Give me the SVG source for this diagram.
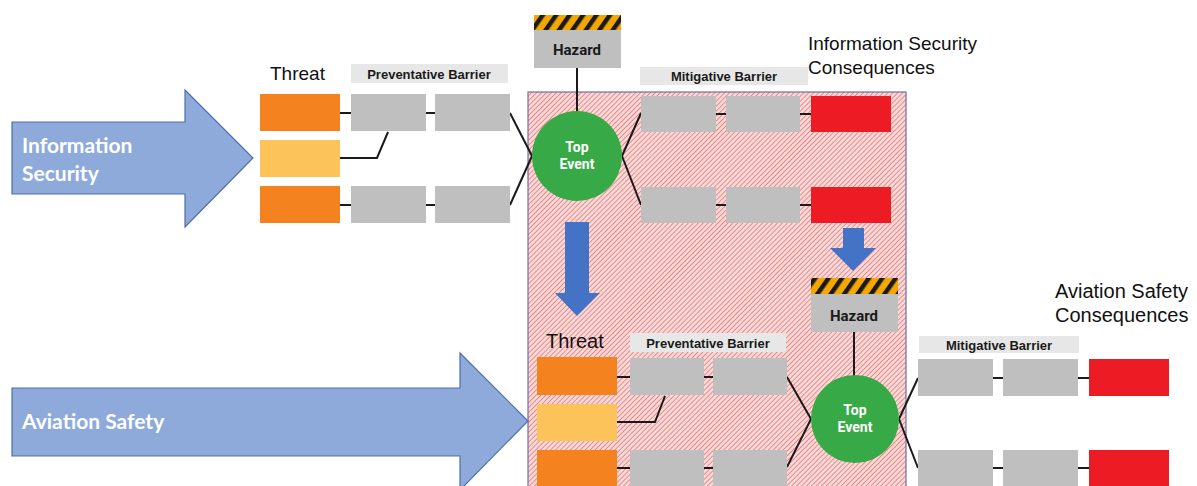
<svg xmlns="http://www.w3.org/2000/svg" width="1197" height="486" viewBox="0 0 1197 486">
  <defs>
    <!-- red diagonal hatching for the shared zone -->
    <pattern id="hatch" width="3.5" height="3.5" patternUnits="userSpaceOnUse" patternTransform="rotate(45)">
      <rect width="3.5" height="3.5" fill="#f9d8d8"/>
      <line x1="0" y1="0" x2="0" y2="3.5" stroke="#de5a5a" stroke-width="1.2"/>
    </pattern>
    <!-- yellow / black warning stripes -->
    <pattern id="warn" width="11" height="11" patternUnits="userSpaceOnUse" patternTransform="rotate(35)">
      <rect width="11" height="11" fill="#f4a700"/>
      <rect width="4.5" height="11" fill="#1a1a1a"/>
    </pattern>
  </defs>
  <style>
    .threat { fill: #f4821f; }
    .threat2 { fill: #fbc35a; }
    .barrier { fill: #bfbfbf; }
    .cons { fill: #ed1c24; }
    .tag { fill: #e7e7e7; }
    .tagtxt { font-family: "Liberation Sans", Arial, sans-serif; font-weight: bold; font-size: 13px; fill: #1a1a1a; text-anchor: middle; }
    .head { font-family: "Liberation Sans", Arial, sans-serif; font-size: 19px; fill: #111; }
    .big { fill: #8eaadb; stroke: #4f6fa8; stroke-width: 1.2; }
    .bigtxt { font-family: Lato, "Open Sans", sans-serif; font-weight: bold; font-size: 21px; fill: #ffffff; }
    .top { fill: #37a946; }
    .toptxt { font-family: Roboto, "Liberation Sans", sans-serif; font-weight: bold; font-size: 14px; fill: #ffffff; text-anchor: middle; }
    .hz { fill: #bfbfbf; }
    .hztxt { font-family: Roboto, "Liberation Sans", sans-serif; font-weight: bold; font-size: 15px; fill: #1a1a1a; text-anchor: middle; }
    .down { fill: #4472c4; }
    .link { stroke: #1a1a1a; stroke-width: 2; fill: none; }
  </style>

  <rect width="1197" height="486" fill="#ffffff"/>

  <!-- shared zone -->
  <g id="overlap">
    <rect x="528" y="92" width="378" height="400" fill="url(#hatch)" stroke="#6a6fa6" stroke-width="1.2"/>
  </g>

  <!-- domain arrows -->
  <g id="info-security">
    <polygon class="big" points="12,122 185,122 185,90 253,158 185,227 185,194 12,194"/>
    <text class="bigtxt" x="22" y="153">Information</text>
    <text class="bigtxt" x="22" y="181">Security</text>
  </g>
  <g id="aviation-safety">
    <polygon class="big" points="12,388 460,388 460,353 528,421 460,490 460,456 12,456"/>
    <text class="bigtxt" x="22" y="429">Aviation Safety</text>
  </g>

  <!-- connectors -->
  <g id="connectors">
    <line class="link" x1="577" y1="68" x2="577" y2="112"/>
    <line class="link" x1="340" y1="113" x2="351" y2="113"/>
    <line class="link" x1="426" y1="113" x2="435" y2="113"/>
    <polyline class="link" points="340,158 377,158 388,132"/>
    <line class="link" x1="340" y1="205" x2="351" y2="205"/>
    <line class="link" x1="426" y1="205" x2="435" y2="205"/>
    <line class="link" x1="510" y1="113" x2="532" y2="156"/>
    <line class="link" x1="510" y1="205" x2="532" y2="156"/>
    <line class="link" x1="622" y1="156" x2="641" y2="113"/>
    <line class="link" x1="622" y1="156" x2="641" y2="205"/>
    <line class="link" x1="716" y1="114" x2="726" y2="114"/>
    <line class="link" x1="800" y1="114" x2="811" y2="114"/>
    <line class="link" x1="716" y1="205" x2="726" y2="205"/>
    <line class="link" x1="800" y1="205" x2="811" y2="205"/>

    <line class="link" x1="854" y1="332" x2="854" y2="376"/>
    <line class="link" x1="617" y1="377" x2="630" y2="377"/>
    <line class="link" x1="704" y1="377" x2="713" y2="377"/>
    <polyline class="link" points="617,422 655,422 665,396"/>
    <line class="link" x1="617" y1="468" x2="630" y2="468"/>
    <line class="link" x1="704" y1="468" x2="713" y2="468"/>
    <line class="link" x1="787" y1="377" x2="811" y2="419"/>
    <line class="link" x1="787" y1="467" x2="811" y2="419"/>
    <line class="link" x1="899" y1="419" x2="918" y2="378"/>
    <line class="link" x1="899" y1="419" x2="918" y2="468"/>
    <line class="link" x1="993" y1="378" x2="1003" y2="378"/>
    <line class="link" x1="1078" y1="378" x2="1089" y2="378"/>
    <line class="link" x1="993" y1="468" x2="1003" y2="468"/>
    <line class="link" x1="1078" y1="468" x2="1089" y2="468"/>
  </g>

  <!-- upper bow-tie -->
  <text class="head" x="270" y="80">Threat</text>
  <g id="prev-tag-1">
    <rect class="tag" x="351" y="64" width="157" height="19"/>
    <text class="tagtxt" x="429" y="78.5">Preventative Barrier</text>
  </g>
  <g id="threat-1a"><rect class="threat" x="260" y="94" width="80" height="37"/></g>
  <g id="threat-1b"><rect class="threat2" x="260" y="140" width="80" height="37"/></g>
  <g id="threat-1c"><rect class="threat" x="260" y="186" width="80" height="37"/></g>
  <g id="pb-1a"><rect class="barrier" x="351" y="94" width="75" height="37"/></g>
  <g id="pb-1b"><rect class="barrier" x="435" y="94" width="75" height="37"/></g>
  <g id="pb-1c"><rect class="barrier" x="351" y="186" width="75" height="37"/></g>
  <g id="pb-1d"><rect class="barrier" x="435" y="186" width="75" height="37"/></g>

  <g id="hazard-1">
    <rect x="534" y="15" width="87" height="15" fill="url(#warn)"/>
    <rect class="hz" x="534" y="30" width="87" height="38"/>
    <text class="hztxt" x="577" y="55">Hazard</text>
  </g>
  <g id="top-event-1">
    <circle class="top" cx="577" cy="156" r="45"/>
    <text class="toptxt" x="577" y="152">Top</text>
    <text class="toptxt" x="577" y="169">Event</text>
  </g>

  <g id="mit-tag-1">
    <rect class="tag" x="640" y="67" width="168" height="18"/>
    <text class="tagtxt" x="724" y="80.5">Mitigative Barrier</text>
  </g>
  <g id="mb-1a"><rect class="barrier" x="641" y="96" width="75" height="36"/></g>
  <g id="mb-1b"><rect class="barrier" x="726" y="96" width="74" height="36"/></g>
  <g id="cons-1a"><rect class="cons" x="811" y="96" width="80" height="36"/></g>
  <g id="mb-1c"><rect class="barrier" x="641" y="187" width="75" height="36"/></g>
  <g id="mb-1d"><rect class="barrier" x="726" y="187" width="74" height="36"/></g>
  <g id="cons-1b"><rect class="cons" x="811" y="187" width="80" height="36"/></g>

  <g id="is-consequences">
    <text class="head" x="808" y="50">Information Security</text>
    <text class="head" x="808" y="74">Consequences</text>
  </g>

  <!-- escalation arrows -->
  <g id="escalate-left">
    <polygon class="down" points="565,222 589,222 589,293 600,293 577,316 555,293 565,293"/>
  </g>
  <g id="escalate-right">
    <polygon class="down" points="843,228 864,228 864,248 876,248 853,271 830,248 843,248"/>
  </g>

  <!-- lower bow-tie -->
  <text class="head" x="546" y="348" style="font-size:20px">Threat</text>
  <g id="prev-tag-2">
    <rect class="tag" x="630" y="333" width="156" height="19"/>
    <text class="tagtxt" x="708" y="347.5">Preventative Barrier</text>
  </g>
  <g id="threat-2a"><rect class="threat" x="537" y="357" width="80" height="38"/></g>
  <g id="threat-2b"><rect class="threat2" x="537" y="404" width="80" height="37"/></g>
  <g id="threat-2c"><rect class="threat" x="537" y="450" width="80" height="40"/></g>
  <g id="pb-2a"><rect class="barrier" x="630" y="358" width="74" height="37"/></g>
  <g id="pb-2b"><rect class="barrier" x="713" y="358" width="74" height="37"/></g>
  <g id="pb-2c"><rect class="barrier" x="630" y="450" width="74" height="40"/></g>
  <g id="pb-2d"><rect class="barrier" x="713" y="450" width="74" height="40"/></g>

  <g id="hazard-2">
    <rect x="811" y="278" width="87" height="16" fill="url(#warn)"/>
    <rect class="hz" x="811" y="294" width="87" height="38"/>
    <text class="hztxt" x="854" y="321">Hazard</text>
  </g>
  <g id="top-event-2">
    <circle class="top" cx="855" cy="419" r="44"/>
    <text class="toptxt" x="855" y="415">Top</text>
    <text class="toptxt" x="855" y="432">Event</text>
  </g>

  <g id="mit-tag-2">
    <rect class="tag" x="919" y="336" width="160" height="17"/>
    <text class="tagtxt" x="999" y="349.5">Mitigative Barrier</text>
  </g>
  <g id="mb-2a"><rect class="barrier" x="918" y="359" width="75" height="37"/></g>
  <g id="mb-2b"><rect class="barrier" x="1003" y="359" width="75" height="37"/></g>
  <g id="cons-2a"><rect class="cons" x="1089" y="359" width="80" height="37"/></g>
  <g id="mb-2c"><rect class="barrier" x="918" y="450" width="75" height="40"/></g>
  <g id="mb-2d"><rect class="barrier" x="1003" y="450" width="75" height="40"/></g>
  <g id="cons-2b"><rect class="cons" x="1089" y="450" width="80" height="40"/></g>

  <g id="as-consequences">
    <text class="head" x="1055" y="298" style="font-size:20px">Aviation Safety</text>
    <text class="head" x="1055" y="322" style="font-size:20px">Consequences</text>
  </g>
</svg>
